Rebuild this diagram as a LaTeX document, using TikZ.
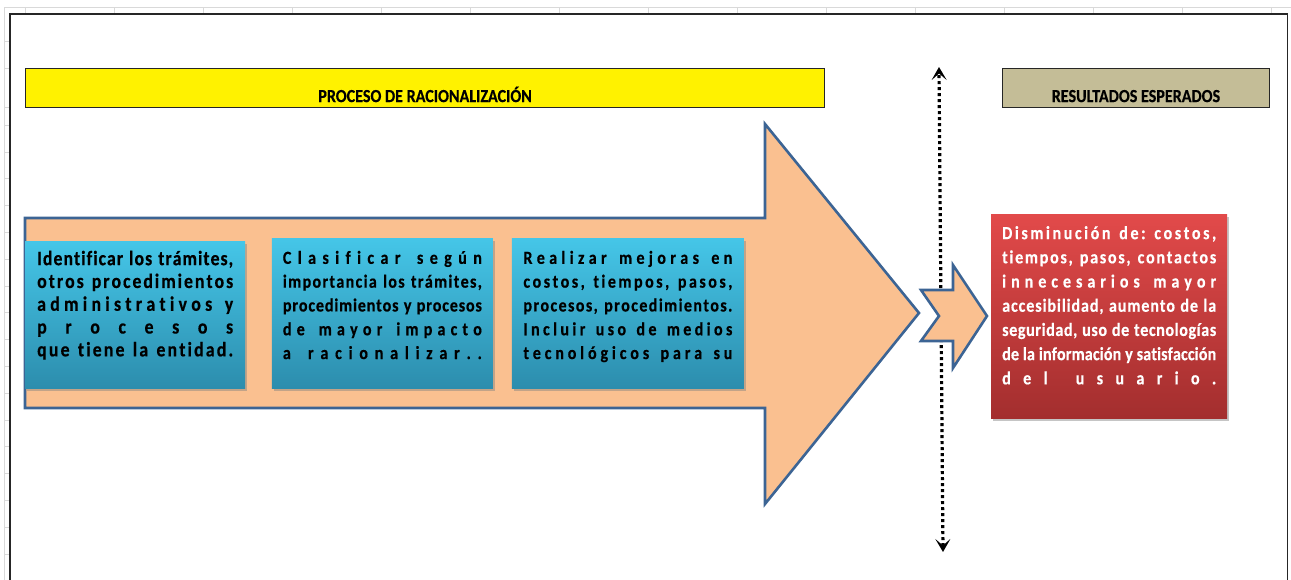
\documentclass[tikz,border=0pt]{standalone}
\usepackage{fontspec}
\setmainfont{Carlito}[FakeStretch=0.87]
\newfontfamily\cajafont{Carlito}[FakeStretch=0.87,BoldFeatures={FakeBold=0.4}]
\usepackage{xcolor}
\usepackage{tikz}
\usetikzlibrary{arrows.meta,shadows,positioning}

\definecolor{naranja}{HTML}{FAC090}
\definecolor{bordeazul}{HTML}{3C6494}
\definecolor{celeste}{HTML}{45C6E8}
\definecolor{celestemed}{HTML}{37AACB}
\definecolor{celesteosc}{HTML}{2C8DAD}
\definecolor{rojo}{HTML}{E24A4A}
\definecolor{rojoosc}{HTML}{A32E2E}
\definecolor{caqui}{HTML}{C4BD97}
\definecolor{rejillagris}{HTML}{D9D9D9}

% letters spread over the line, as the sheet does it
\makeatletter
\newcommand\ls[1]{\def\ls@sep{}\@tfor\ls@c:=#1\do{\ls@sep\ls@c\def\ls@sep{\hfil}}}
\def\lsw#1 #2\lsend{\ls{#1}\ifx\relax#2\relax\else\hfil\ \hfil\lsw#2\lsend\fi}
\makeatother
\newcommand\jl[1]{\makebox[\linewidth][s]{\strut\lsw#1 \lsend}\par}

\begin{document}
\begin{tikzpicture}[x=1pt,y=-1pt]
  \tikzset{rejilla/.style={rejillagris,line width=0.8pt},
           flecha/.style={fill=naranja,draw=bordeazul,line width=2.6pt,line join=miter},
           etapa/.style={anchor=north west,inner ysep=9pt,
                         top color=celeste,middle color=celestemed,bottom color=celesteosc,
                         drop shadow={shadow xshift=2pt,shadow yshift=-3pt,opacity=.45},
                         font=\cajafont\fontsize{18.5}{23.8}\selectfont\bfseries},
           resultado/.style={anchor=north west,inner xsep=11pt,inner ysep=8pt,
                         top color=rojo,bottom color=rojoosc,text=white,
                         drop shadow={shadow xshift=2pt,shadow yshift=-3pt,opacity=.45},
                         font=\cajafont\fontsize{18.5}{24.2}\selectfont\bfseries},
           banner/.style={anchor=north west,draw=black!85,line width=1.2pt,
                         minimum height=39pt,inner ysep=4.5pt,
                         text height=29pt,text depth=1pt,
                         font=\cajafont\fontsize{18.5}{22}\selectfont\bfseries},
           linea/.style={line width=3.2pt,dash pattern=on 3pt off 3pt,
                         {Stealth[length=13pt,width=15pt,inset=6.5pt]}-{Stealth[length=13pt,width=15pt,inset=6.5pt]}}}
  \useasboundingbox (0,0) rectangle (1291,580);

  % sheet grid round the frame
  \draw[rejilla] (4.7,580) -- (4.7,7.3) -- (1291,7.3);
  \foreach \x in {0,...,14}
    \draw[rejilla] (25.7+89*\x,7.3) -- (25.7+89*\x,14);
  \foreach \y in {41.7,68.3,107}
    \draw[rejilla] (4.7,\y) -- (10,\y);
  \foreach \k in {0,...,16}
    \draw[rejilla] (4.7,554-26.8*\k) -- (10,554-26.8*\k);
  \fill[white] (10,14) rectangle (1287.7,580);
  \draw[black!85,line width=1.5pt] (10,580) -- (10,14) -- (1287.7,14) -- (1287.7,580);

  % banners
  \node[banner,fill=yellow,minimum width=799pt] (proceso) at (25,68) {PROCESO DE RACIONALIZACIÓN};
  \node[banner,fill=caqui,minimum width=266.7pt] (esperados) at (1002,68) {RESULTADOS ESPERADOS};

  % big arrow
  \draw[flecha] (25,218) -- (765,218) -- (765,124) -- (919,313) -- (765,504)
    -- (765,408) -- (25,408) -- cycle;

  % steps
  \node[etapa,inner xsep=12pt,inner ysep=8pt,font=\cajafont\fontsize{20.5}{22.8}\selectfont\bfseries]
    (identificar) at (25,241) {\parbox[c][131pt][t]{196pt}{%
    \jl{Identificar los trámites,}
    \jl{otros procedimientos}
    \jl{administrativos y}
    \jl{procesos}
    \jl{que tiene la entidad.}}};
  \node[etapa,inner xsep=11pt] (clasificar) at (271.7,238) {\parbox[c][132pt][t]{199pt}{%
    \jl{Clasificar según}
    \jl{importancia los trámites,}
    \jl{procedimientos y procesos}
    \jl{de mayor impacto}
    \jl{a racionalizar..}}};
  \node[etapa,inner xsep=11.5pt] (mejorar) at (511.7,238) {\parbox[c][132pt][t]{209pt}{%
    \jl{Realizar mejoras en}
    \jl{costos, tiempos, pasos,}
    \jl{procesos, procedimientos.}
    \jl{Incluir uso de medios}
    \jl{tecnológicos para su}}};

  % divider
  \coordinate (lineaarriba) at (939,67);
  \coordinate (lineaabajo) at (943,552);
  \draw[linea] (lineaabajo) -- (lineaarriba);

  % small arrow
  \draw[flecha] (921,290) -- (953,290) -- (953,265) -- (987,316) -- (953,368)
    -- (953,341) -- (921,341) -- (939,316) -- cycle;

  % result
  \node[resultado] (disminucion) at (991,214) {\parbox[c][188pt][t]{214pt}{%
    \jl{Disminución de: costos,}
    \jl{tiempos, pasos, contactos}
    \jl{innecesarios mayor}
    \jl{accesibilidad, aumento de la}
    \jl{seguridad, uso de tecnologías}
    \jl{de la información y satisfacción}
    \jl{del usuario.}}};
\end{tikzpicture}
\end{document}
